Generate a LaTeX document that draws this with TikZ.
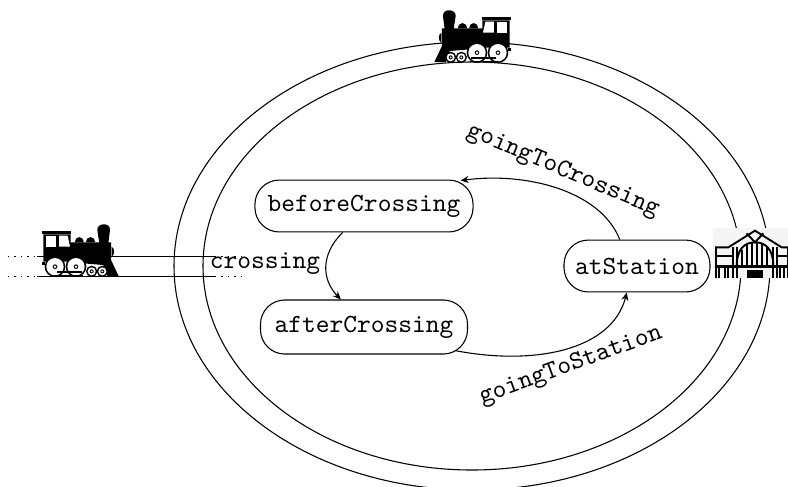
\documentclass[tikz,border=0pt]{standalone}
\usetikzlibrary{arrows.meta}
\newcommand{\trainshape}{%
  % cab roof, cab and boiler
  \fill (127,63) rectangle (212,73);
  \fill (130,73) -- (212,73) -- (212,97) -- (333,97) -- (333,155) -- (130,155) -- cycle;
  \fill[white] (137,77) rectangle (168,110);
  \fill[white] (177,77) -- (203,77) -- (210,110) -- (177,110) -- cycle;
  % domes
  \fill (225,97) .. controls (226,76) and (250,76) .. (251,97) -- cycle;
  \fill (258,97) .. controls (259,76) and (284,76) .. (285,97) -- cycle;
  % chimney
  \fill (298,100) -- (292,60) .. controls (290,38) and (332,36) .. (330,60) -- (325,100) -- cycle;
  % front
  \fill (335,110) .. controls (345,115) and (345,135) .. (335,140) -- cycle;
  % cowcatcher
  \fill (333,150) -- (356,198) -- (322,198) -- (310,165) -- (250,160) -- (250,150) -- cycle;
  \fill (127,155) rectangle (135,165);
  % wheels
  \foreach \cx/\cy/\r/\s in {165/170/31/6,228/170/31/6,275/184/17/5,307/184/17/5}{
    \fill (\cx,\cy) circle[radius=\r];
    \fill[white] (\cx,\cy) circle[radius=\r-5];
    \fill (\cx,\cy) circle[radius=\s+1];
    \fill[white] (\cx,\cy) circle[radius=\s-2];
  }
  % rod
  \fill (172,182) rectangle (245,188);
  \fill (165,196) rectangle (250,199);
}
\newcommand{\stationshape}{%
  \fill[black!4] (40,40) rectangle (270,190);
  \begin{scope}[line width=0.7pt]
    \draw (45,97) -- (85,97) -- (165,47) -- (245,97) -- (270,97);
    \draw (48,97) -- (48,190) (100,97) -- (100,190) (110,97) -- (110,190);
    \draw (220,97) -- (220,190) (232,97) -- (232,190) (265,97) -- (265,190);
    \draw (48,122) -- (100,122) (232,122) -- (265,122);
    \draw (110,155) .. controls (110,100) and (135,82) .. (165,82) .. controls (195,82) and (220,100) .. (220,155);
    \draw (125,105) -- (125,155) (140,90) -- (140,155) (155,84) -- (155,155)
      (170,82) -- (170,155) (185,86) -- (185,155) (200,95) -- (200,155);
    \draw (140,55) -- (165,82) -- (190,55);
    \draw[line width=0.9pt] (45,155) -- (270,155);
    \draw (58,155) -- (58,190) (75,155) -- (75,190) (85,155) -- (85,190)
      (240,155) -- (240,190) (252,155) -- (252,190);
  \end{scope}
  \fill (142,165) rectangle (190,190);
}
\tikzset{
  typeface/.style={font=\fontsize{9.7pt}{11pt}\selectfont\ttfamily},
  statebox/.style={draw,rounded corners=9pt,typeface,inner sep=0pt,align=center},
  edgeline/.style={draw,-{Stealth[length=3pt,width=2.6pt,inset=1pt]}},
  railline/.style={line width=0.4pt},
  raildots/.style={line width=0.4pt,dash pattern=on 0.4pt off 2pt},
  edgelabel/.style={typeface,inner sep=0pt},
  localunit/.style={x=0.12333pt,y=-0.12333pt}
}
\begin{document}
\begin{tikzpicture}[x=0.37pt,y=-0.37pt,line width=0.4pt]
\useasboundingbox (0,0) rectangle (788,486);
\begin{scope}
\clip (0,0) rectangle (788,486);
\draw (472,266) ellipse [x radius=298,y radius=224];
\draw (472,266) ellipse [x radius=269,y radius=204];
\end{scope}
% tracks
\coordinate (tla) at (37,256.4); \coordinate (tlb) at (215,256.4);
\coordinate (bla) at (37,276.5); \coordinate (blb) at (215,276.5);
\coordinate (tl0) at (8,256.4); \coordinate (tl1) at (243,256.4);
\coordinate (bl0) at (8,276.5); \coordinate (bl1) at (243,276.5);
\draw[railline] (tla) -- (tlb) (bla) -- (blb);
\draw[raildots] (tl0) -- (tla) (tlb) -- (tl1) (bl0) -- (bla) (blb) -- (bl1);
% trains
\begin{scope}[shift={(0,210)},localunit]\trainshape\end{scope}
\begin{scope}[shift={(553,-4)},x=-0.12333pt,y=-0.12333pt]\trainshape\end{scope}
% station
\begin{scope}[shift={(700,215)},localunit]\stationshape\end{scope}
% states
\node[statebox,minimum width=80.7pt,minimum height=19.2pt] (before) at (364,206) {beforeCrossing};
\node[statebox,minimum width=76.6pt,minimum height=20pt] (after) at (364,327) {afterCrossing};
\node[statebox,minimum width=54pt,minimum height=19.2pt] (station) at (637,266) {atStation};
\node[edgelabel] (crossinglabel) at (265,264) {crossing};
\node[edgelabel,rotate=-23] (gtc) at (563,171) {goingToCrossing};
\node[edgelabel,rotate=20] (gts) at (571,366) {goingToStation};
% connectors
\draw[edgeline] (before.-129) .. controls (320,255) and (322,280) .. (after.130);
\draw[edgeline] (station.123) .. controls (600,190) and (525,172) .. ([shift={(-13,1)}]before.north east);
\draw[edgeline] ([shift={(-13,-4)}]after.south east) .. controls (535,366) and (612,350) .. (station.-111);
\end{tikzpicture}
\end{document}
